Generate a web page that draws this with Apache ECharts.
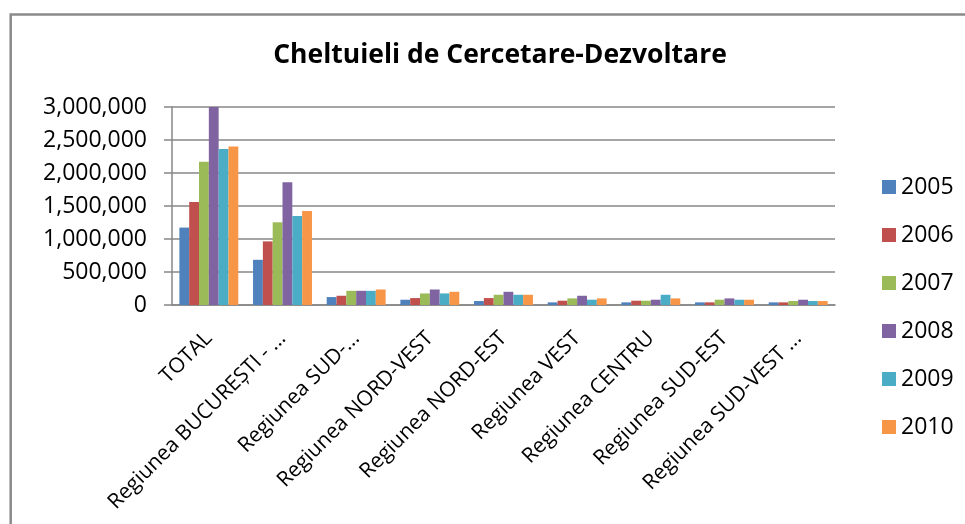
<!DOCTYPE html>
<html lang="ro">
<head>
    <meta charset="utf-8">
    <title>Cheltuieli de Cercetare-Dezvoltare</title>
    <script src="https://cdn.jsdelivr.net/npm/echarts@6/dist/echarts.min.js"></script>
    <style>
        html, body { margin: 0; padding: 0; background: #fff; }
        #chart { width: 965px; height: 524px; }
    </style>
</head>
<body>
    <div id="chart"></div>

    <script>
        // regions (as shown, truncated like in the original)
        var regions = ["TOTAL", "Regiunea BUCUREŞTI - ...", "Regiunea SUD-...", "Regiunea NORD-VEST",
            "Regiunea NORD-EST", "Regiunea VEST", "Regiunea CENTRU", "Regiunea SUD-EST", "Regiunea SUD-VEST ..."];
        var years = ["2005", "2006", "2007", "2008", "2009", "2010"];
        var colors = ["#4F81BD", "#C0504D", "#9BBB59", "#8064A2", "#4BACC6", "#F79646"];

        // values
        var v2005 = [1173000, 685000, 120000, 80000, 60000, 40000, 40000, 40000, 40000];
        var v2006 = [1562000, 964000, 140000, 105000, 105000, 65000, 65000, 40000, 40000];
        var v2007 = [2172000, 1253000, 215000, 175000, 155000, 100000, 65000, 80000, 60000];
        var v2008 = [3000000, 1858000, 215000, 235000, 200000, 140000, 80000, 100000, 80000];
        var v2009 = [2365000, 1349000, 215000, 175000, 155000, 80000, 155000, 80000, 60000];
        var v2010 = [2400000, 1425000, 235000, 200000, 155000, 100000, 100000, 80000, 60000];
        var values = [v2005, v2006, v2007, v2008, v2009, v2010];

        var gray = "#878787";
        var font = "'Open Sans', 'Noto Sans', sans-serif";

        var series = [];
        for (var i = 0; i < years.length; i++) {
            series.push({
                name: years[i],
                type: "bar",
                data: values[i],
                barGap: "0%",
                barCategoryGap: "20%",
                itemStyle: { color: colors[i] }
            });
        }

        var myChart = echarts.init(document.getElementById("chart"));
        myChart.setOption({
            animation: false,
            color: colors,
            title: {
                text: "Cheltuieli de Cercetare-Dezvoltare",
                left: 495,
                textAlign: "center",
                top: 37,
                textStyle: { fontFamily: font, fontSize: 26.5, fontWeight: "bold", color: "#000" }
            },
            legend: {
                orient: "vertical",
                left: 877,
                top: 170,
                itemWidth: 14,
                itemHeight: 14,
                itemGap: 24,
                icon: "rect",
                textStyle: { fontFamily: font, fontSize: 23, color: "#000", lineHeight: 24 },
                data: years
            },
            grid: { left: 172, right: 130, top: 107, bottom: 219 },
            xAxis: {
                type: "category",
                data: regions,
                axisLine: { lineStyle: { color: gray, width: 1.5 } },
                axisTick: { length: 6, lineStyle: { color: gray, width: 1.5 } },
                axisLabel: {
                    rotate: 45,
                    interval: 0,
                    margin: 30,
                    fontFamily: font,
                    fontSize: 21,
                    color: "#000"
                }
            },
            yAxis: {
                type: "value",
                min: 0,
                max: 3000000,
                interval: 500000,
                axisLine: { show: true, lineStyle: { color: gray, width: 1.5 } },
                axisTick: { show: true, length: 8, lineStyle: { color: gray, width: 1.5 } },
                splitLine: { lineStyle: { color: gray, width: 1.5 } },
                axisLabel: {
                    margin: 25,
                    fontFamily: font,
                    fontSize: 23,
                    color: "#000",
                    formatter: function (v) { return v.toLocaleString("en-US"); }
                }
            },
            graphic: [{
                type: "rect",
                shape: { x: 10.7, y: 14.5, width: 1000, height: 600 },
                style: { fill: "none", stroke: "#8a8a8a", lineWidth: 2.5 }
            }],
            series: series
        });
    </script>
</body>
</html>
